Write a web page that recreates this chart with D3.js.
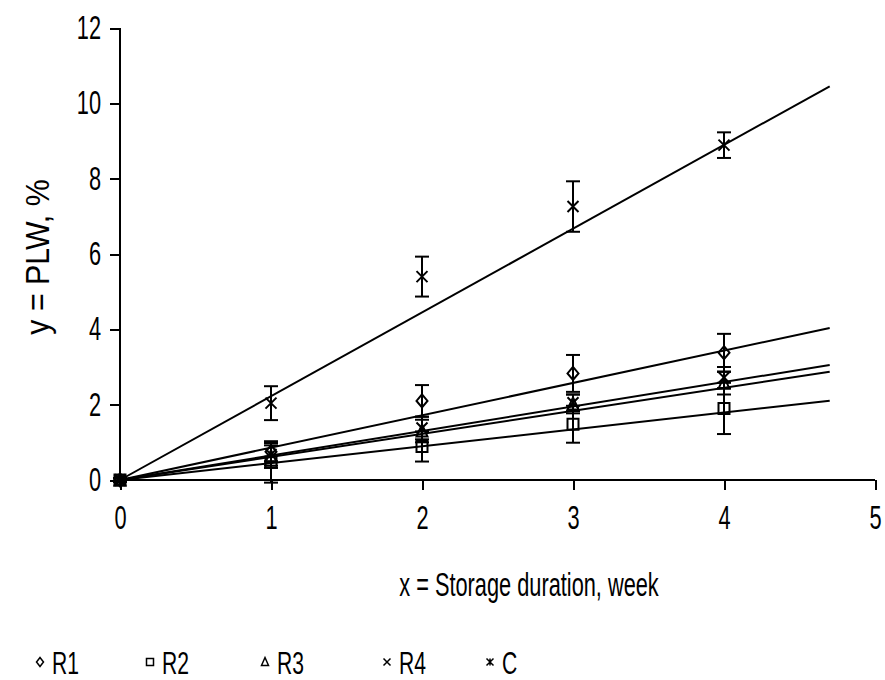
<!DOCTYPE html>
<html>
<head>
    <title>PLW vs storage duration</title>
    <script src="https://d3js.org/d3.v7.min.js"></script>
    <style>
        body { margin: 0; background: #fff; }
        text {
            font-family: "Liberation Sans", Arial, sans-serif;
            fill: #000;
        }
        .axis path, .axis line {
            stroke: #000;
            stroke-width: 2px;
            shape-rendering: crispEdges;
        }
    </style>
</head>
<body>
    <svg id="chart"></svg>
    <script>
        // values
        var weeks = [0, 1, 2, 3, 4];
        var seriesNames = ["R1", "R2", "R3", "R4", "C"];
        var r1 = [0, 0.75, 2.10, 2.83, 3.38];
        var r2 = [0, 0.48, 0.89, 1.48, 1.90];
        var r3 = [0, 0.62, 1.30, 2.02, 2.57];
        var r4 = [0, 0.68, 1.38, 2.05, 2.72];
        var c  = [0, 2.04, 5.40, 7.26, 8.89];
        var r1Err = [0.05, 0.25, 0.42, 0.49, 0.50];
        var r2Err = [0.05, 0.55, 0.40, 0.49, 0.68];
        var r3Err = [0.05, 0.30, 0.30, 0.25, 0.30];
        var r4Err = [0.05, 0.30, 0.30, 0.22, 0.28];
        var cErr  = [0.05, 0.45, 0.53, 0.67, 0.34];
        // trendline slopes (intercept ~0), drawn to x = 4.7
        var trendSlopes = [0.859, 0.448, 0.650, 0.612, 2.224];
        var trendEnd = 4.7;
        var xTicks = [0, 1, 2, 3, 4, 5];
        var yTicks = [0, 2, 4, 6, 8, 10, 12];

        var allValues = [r1, r2, r3, r4, c];
        var allErrors = [r1Err, r2Err, r3Err, r4Err, cErr];
        var markerTypes = ["diamond", "square", "triangle", "x", "asterisk"];

        var W = 885, H = 680;
        var fontSize = 33, squeeze = 0.66; // tall, narrow lettering as in the picture

        var svg = d3.select("#chart").attr("width", W).attr("height", H);

        var x = d3.scaleLinear().domain([0, 5]).range([120, 875]);
        var y = d3.scaleLinear().domain([0, 12]).range([480, 28]);

        // axes
        var xAxisG = svg.append("g")
            .attr("class", "axis")
            .attr("transform", "translate(0," + y(0) + ")")
            .call(d3.axisBottom(x).tickValues(xTicks).tickSize(10).tickPadding(16).tickFormat(d3.format("d")));
        xAxisG.select(".domain").attr("d", "M" + x(0) + ",0H" + x(5));
        xAxisG.selectAll("text")
            .style("font-size", fontSize + "px")
            .attr("transform", "scale(" + squeeze + ",1)");

        var yAxisG = svg.append("g")
            .attr("class", "axis")
            .attr("transform", "translate(" + x(0) + ",0)")
            .call(d3.axisLeft(y).tickValues(yTicks).tickSize(10).tickFormat(d3.format("d")));
        yAxisG.select(".domain").attr("d", "M0," + y(12) + "V" + y(0));
        yAxisG.selectAll("text")
            .style("font-size", fontSize + "px")
            .attr("x", -19 / squeeze)
            .attr("transform", "scale(" + squeeze + ",1)");

        // axis titles
        svg.append("text")
            .attr("transform", "translate(529,596) scale(" + squeeze + ",1)")
            .attr("text-anchor", "middle")
            .style("font-size", fontSize + "px")
            .text("x = Storage duration, week");

        svg.append("text")
            .attr("transform", "translate(49,257) rotate(-90) scale(0.92,1)")
            .attr("text-anchor", "middle")
            .style("font-size", fontSize + "px")
            .text("y = PLW, %");

        // trendlines
        svg.append("g").selectAll("line")
            .data(trendSlopes)
            .enter().append("line")
            .attr("x1", x(0)).attr("y1", y(0))
            .attr("x2", x(trendEnd))
            .attr("y2", function(d) { return y(d * trendEnd); })
            .attr("stroke", "#000")
            .attr("stroke-width", 2);

        // marker paths, centred on 0,0
        function markerPath(type, s) {
            var h = s / 2;
            switch (type) {
                case "diamond": return "M0," + (-h - 1) + "L" + h + ",0L0," + (h + 1) + "L" + (-h) + ",0Z";
                case "square": return "M" + (-h) + "," + (-h) + "H" + h + "V" + h + "H" + (-h) + "Z";
                case "triangle": return "M0," + (-h - 1) + "L" + h + "," + h + "L" + (-h) + "," + h + "Z";
                case "x": return "M" + (-h) + "," + (-h) + "L" + h + "," + h + "M" + h + "," + (-h) + "L" + (-h) + "," + h;
                case "asterisk": return "M" + (-h) + "," + (-h) + "L" + h + "," + h + "M" + h + "," + (-h) + "L" + (-h) + "," + h + "M0," + (-h) + "V" + h;
            }
        }

        // error bars and markers
        allValues.forEach(function(vals, si) {
            var errs = allErrors[si];
            var pts = weeks.map(function(w, i) { return {x: w, y: vals[i], e: errs[i]}; });
            var g = svg.append("g");

            var eb = g.selectAll(".eb").data(pts).enter().append("g");
            eb.append("line")
                .attr("x1", function(d) { return x(d.x); }).attr("x2", function(d) { return x(d.x); })
                .attr("y1", function(d) { return y(d.y + d.e); }).attr("y2", function(d) { return y(d.y - d.e); })
                .attr("stroke", "#000").attr("stroke-width", 2);
            [1, -1].forEach(function(sgn) {
                eb.append("line")
                    .attr("x1", function(d) { return x(d.x) - 7; }).attr("x2", function(d) { return x(d.x) + 7; })
                    .attr("y1", function(d) { return y(d.y + sgn * d.e); }).attr("y2", function(d) { return y(d.y + sgn * d.e); })
                    .attr("stroke", "#000").attr("stroke-width", 2);
            });

            g.selectAll(".pt").data(pts).enter().append("path")
                .attr("transform", function(d) { return "translate(" + x(d.x) + "," + y(d.y) + ")"; })
                .attr("d", markerPath(markerTypes[si], 11))
                .attr("fill", "none")
                .attr("stroke", "#000")
                .attr("stroke-width", 2);
        });

        // legend
        var legendX = [40, 150, 265, 387, 490];
        var legend = svg.append("g").selectAll("g")
            .data(seriesNames)
            .enter().append("g")
            .attr("transform", function(d, i) { return "translate(" + legendX[i] + ",662)"; });
        legend.append("path")
            .attr("d", function(d, i) { return markerPath(markerTypes[i], 7); })
            .attr("fill", "none").attr("stroke", "#000").attr("stroke-width", 1.5);
        legend.append("text")
            .attr("transform", "translate(12,12) scale(" + squeeze + ",1)")
            .style("font-size", "32px")
            .text(function(d) { return d; });
    </script>
</body>
</html>
